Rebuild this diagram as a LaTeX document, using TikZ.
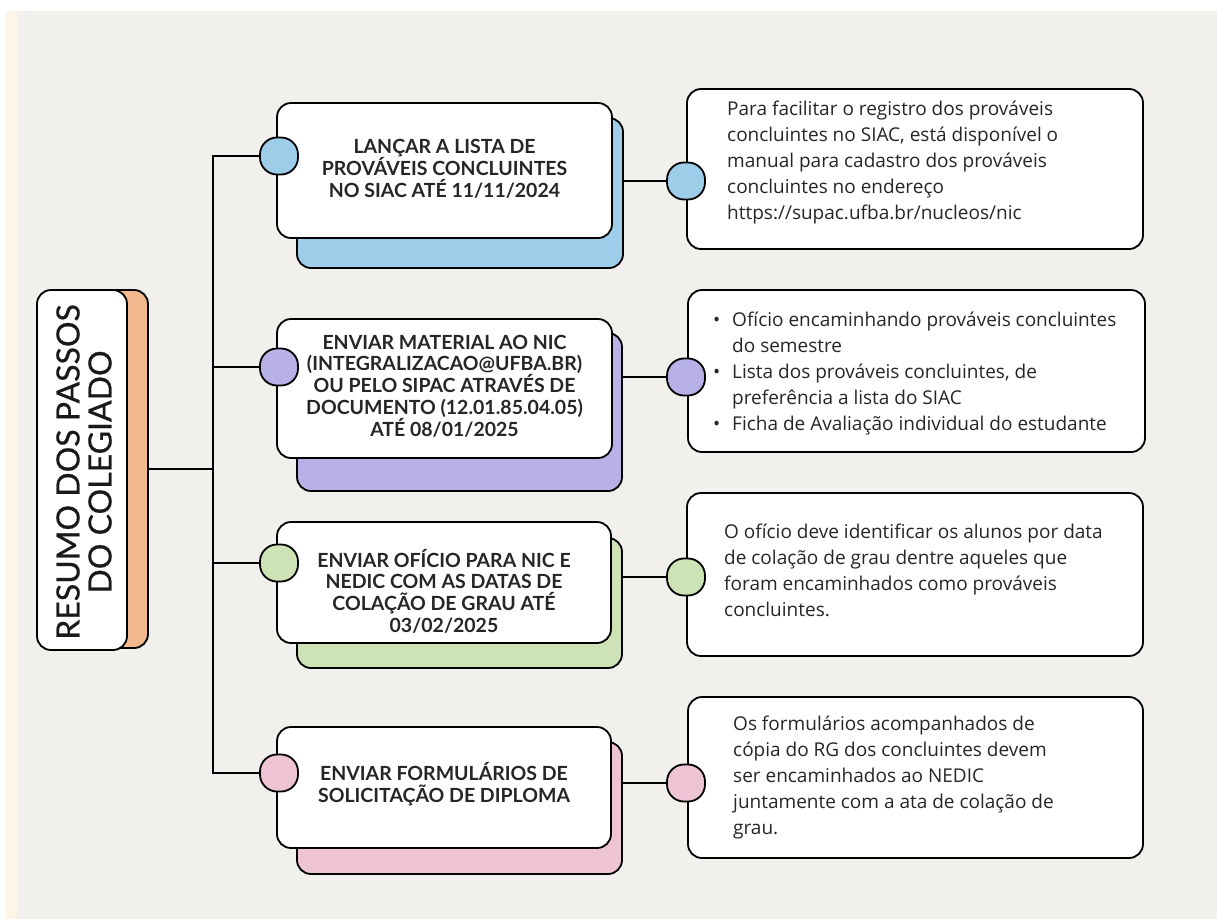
\documentclass[tikz,border=0pt]{standalone}
\usepackage{fontspec}
\setmainfont{Open Sans}
\newfontfamily\boxfont{Lato}
\newfontfamily\titlefont{Lato}[FakeBold=0.6]
\definecolor{bgc}{HTML}{F1F0EC}
\definecolor{creamc}{HTML}{FDF5E8}
\definecolor{bluec}{HTML}{9DCDE8}
\definecolor{purplec}{HTML}{B8B1E7}
\definecolor{greenc}{HTML}{CDE3B5}
\definecolor{pinkc}{HTML}{EEC3D4}
\definecolor{orangec}{HTML}{F2B98F}
\begin{document}
\begin{tikzpicture}[x=1pt,y=-1pt,
  card/.style={draw=black,line width=1.8pt,rounded corners=14pt,fill=white,inner sep=0pt},
  shadowcard/.style={draw=black,line width=1.8pt,rounded corners=14pt,inner sep=0pt},
  dot/.style={draw=black,line width=1.8pt,rounded corners=17pt,minimum width=38pt,minimum height=37pt,inner sep=0pt},
  stepfont/.style={font=\boxfont\bfseries\fontsize{19.5}{21.7}\selectfont,align=center,text=black!85},
  notefont/.style={font=\fontsize{19}{26}\selectfont,align=left,text=black!85},
  link/.style={draw=black,line width=1.8pt}]
% background
\fill[white] (0,0) rectangle (1217,919);
\fill[creamc] (6,11) rectangle (17,919);
\fill[bgc] (17,11) rectangle (1217,919);
\useasboundingbox (0,0) rectangle (1217,919);

% title
\node[shadowcard,fill=orangec,minimum width=90pt,minimum height=358pt] (tsh) at (103,469) {};
\node[card,minimum width=90pt,minimum height=360pt] (title) at (82,470) {};
\node[rotate=90,font=\titlefont\fontsize{32}{32}\selectfont,align=center,text=black!90] (ttext) at (84,472) {RESUMO DOS PASSOS\\DO COLEGIADO};

% step cards
\node[shadowcard,fill=bluec,minimum width=326pt,minimum height=150pt] (s1) at (460,193) {};
\node[card,minimum width=335pt,minimum height=135pt] (b1) at (444.5,170.5) {};
\node[stepfont] (t1) at (444.5,169) {LANÇAR A LISTA DE\\PROVÁVEIS CONCLUINTES\\NO SIAC ATÉ 11/11/2024};

\node[shadowcard,fill=purplec,minimum width=325pt,minimum height=158pt] (s2) at (459.5,412) {};
\node[card,minimum width=335pt,minimum height=139pt] (b2) at (444.5,388.5) {};
\node[stepfont] (t2) at (444.5,386) {ENVIAR MATERIAL AO NIC\\(INTEGRALIZACAO@UFBA.BR)\\OU PELO SIPAC ATRAVÉS DE\\DOCUMENTO (12.01.85.04.05)\\ATÉ 08/01/2025};

\node[shadowcard,fill=greenc,minimum width=325pt,minimum height=130pt] (s3) at (459.5,603) {};
\node[card,minimum width=334pt,minimum height=121pt] (b3) at (444,582.5) {};
\node[stepfont] (t3) at (444,591) {ENVIAR OFÍCIO PARA NIC E\\NEDIC COM AS DATAS DE\\COLAÇÃO DE GRAU ATÉ\\03/02/2025};

\node[shadowcard,fill=pinkc,minimum width=325pt,minimum height=132pt] (s4) at (459.5,808) {};
\node[card,minimum width=334pt,minimum height=121pt] (b4) at (444,787.5) {};
\node[stepfont] (t4) at (444,784) {ENVIAR FORMULÁRIOS DE\\SOLICITAÇÃO DE DIPLOMA};

% left dots
\node[dot,fill=bluec] (c1) at (279,156) {};
\node[dot,fill=purplec] (c2) at (279,367) {};
\node[dot,fill=greenc] (c3) at (279,563) {};
\node[dot,fill=pinkc] (c4) at (279,773) {};

% note cards
\node[card,minimum width=456pt,minimum height=160pt] (r1) at (915,169) {};
\node[card,minimum width=457pt,minimum height=162pt] (r2) at (916.5,371) {};
\node[card,minimum width=456pt,minimum height=163pt] (r3) at (915,574.5) {};
\node[card,minimum width=455pt,minimum height=161pt] (r4) at (915.5,777.5) {};

\node[notefont,anchor=west,inner sep=0pt] (n1) at (727,162.5) {Para facilitar o registro dos prováveis\\concluintes no SIAC, está disponível o\\manual para cadastro dos prováveis\\concluintes no endereço\\https://supac.ufba.br/nucleos/nic};
\node[notefont,anchor=west,inner sep=0pt] (n2) at (732,373.5) {\llap{\textbullet\hspace{12pt}}Ofício encaminhando prováveis concluintes\\do semestre\\\llap{\textbullet\hspace{12pt}}Lista dos prováveis concluintes, de\\preferência a lista do SIAC\\\llap{\textbullet\hspace{12pt}}Ficha de Avaliação individual do estudante};
\node[notefont,anchor=west,inner sep=0pt] (n3) at (724,570.5) {O ofício deve identificar os alunos por data\\de colação de grau dentre aqueles que\\foram encaminhados como prováveis\\concluintes.};
\node[notefont,anchor=west,inner sep=0pt] (n4) at (733,777.5) {Os formulários acompanhados de\\cópia do RG dos concluintes devem\\ser encaminhados ao NEDIC\\juntamente com a ata de colação de\\grau.};

% right dots
\node[dot,fill=bluec] (rc1) at (686,181) {};
\node[dot,fill=purplec] (rc2) at (686,377) {};
\node[dot,fill=greenc] (rc3) at (686,577) {};
\node[dot,fill=pinkc] (rc4) at (686,783) {};

% tree
\coordinate (hub) at (213,469);
\draw[link] (tsh.east) -- (hub);
\draw[link] (c1.west) -| (hub) |- (c4.west);
\draw[link] (c2.west) -- (c2.west -| hub);
\draw[link] (c3.west) -- (c3.west -| hub);
\draw[link] (rc1.west) -- (rc1.west -| s1.east);
\draw[link] (rc2.west) -- (rc2.west -| s2.east);
\draw[link] (rc3.west) -- (rc3.west -| s3.east);
\draw[link] (rc4.west) -- (rc4.west -| s4.east);
\end{tikzpicture}
\end{document}
